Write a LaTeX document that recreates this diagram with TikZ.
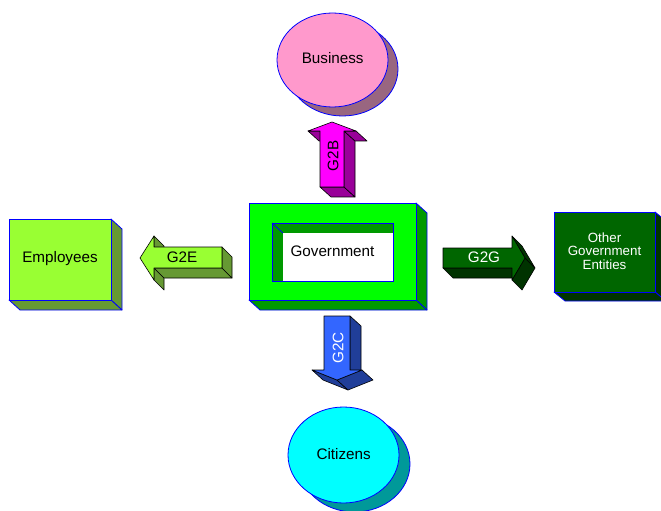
\documentclass[tikz,border=0pt]{standalone}
\usepackage{fontspec}
\setmainfont{Liberation Sans}
\usetikzlibrary{calc}
\definecolor{govfront}{HTML}{00FF00}
\definecolor{govside}{HTML}{009900}
\definecolor{limefront}{HTML}{99FF33}
\definecolor{limeside}{HTML}{669933}
\definecolor{dgfront}{HTML}{006600}
\definecolor{dgside}{HTML}{003300}
\definecolor{magfront}{HTML}{FF00FF}
\definecolor{magside}{HTML}{990099}
\definecolor{pinkfront}{HTML}{FF99CC}
\definecolor{pinkshadow}{HTML}{996680}
\definecolor{bluefront}{HTML}{3366FF}
\definecolor{blueside}{HTML}{203E99}
\definecolor{cyanfront}{HTML}{00FFFF}
\definecolor{cyanshadow}{HTML}{009999}
\definecolor{edgeblue}{HTML}{0000FF}
\newcommand\sidequad[4]{%
  \filldraw[#1] #2 -- #3 -- ($#3+#4$) -- ($#2+#4$) -- cycle;}
\tikzset{
  boxedge/.style={draw=edgeblue, line width=0.8bp},
  arrowedge/.style={draw=black, line width=0.6bp},
  label/.style={font=\fontsize{15.3}{17}\selectfont, inner sep=0pt},
  smalllabel/.style={font=\fontsize{13.4}{13.6}\selectfont, inner sep=0pt, align=center},
}
\begin{document}
\begin{tikzpicture}[x=1bp,y=-1bp,line join=round]
\useasboundingbox (0,0) rectangle (661,511);
\clip (0,0) rectangle (661,511);

% ---------- Business ----------
\filldraw[fill=pinkshadow, boxedge] (342.5,69) ellipse [x radius=55.5, y radius=47];
\filldraw[fill=pinkfront, boxedge] (332.5,60) ellipse [x radius=55.5, y radius=47];
\node[label] (bus) at (332.7,58) {Business};

% ---------- Citizens ----------
\filldraw[fill=cyanshadow, boxedge] (354.5,464) ellipse [x radius=55.5, y radius=48];
\filldraw[fill=cyanfront, boxedge] (343.5,455) ellipse [x radius=55.5, y radius=48];
\node[label] (cit) at (343.7,454) {Citizens};

% ---------- Government ----------
\sidequad{fill=govside, boxedge}{(416,203)}{(416,300)}{(11,10)}
\sidequad{fill=govside, boxedge}{(416,300)}{(249,300)}{(11,10)}
\filldraw[fill=govfront, boxedge] (249,203) rectangle (416,300);
\filldraw[fill=govside, boxedge] (272,223) rectangle (393,281);
\fill[white] (283,233) rectangle (393,281);
\draw[boxedge] (272,223) -- (283,233);
\draw[boxedge] (272,281) -- (393,281) -- (393,223);
\node[label] (gov) at (332.5,251.5) {Government};

% ---------- Employees ----------
\sidequad{fill=limeside, boxedge}{(111,219)}{(111,300)}{(11,10)}
\sidequad{fill=limeside, boxedge}{(111,300)}{(9,300)}{(11,10)}
\filldraw[fill=limefront, boxedge] (9,219) rectangle (111,300);
\node[label] (emp) at (60,259) {Employees};

% ---------- Other Government Entities ----------
\sidequad{fill=dgside, boxedge}{(655,212)}{(655,292)}{(11,9)}
\sidequad{fill=dgside, boxedge}{(655,292)}{(554,292)}{(11,9)}
\filldraw[fill=dgfront, boxedge] (554,212) rectangle (655,292);
\node[smalllabel, text=white] (oth) at (604.5,251) {Other\\Government\\Entities};

% ---------- G2B (up) ----------
\sidequad{fill=magside, arrowedge}{(320,131)}{(308,131)}{(11,10)}
\sidequad{fill=magside, arrowedge}{(344,187)}{(320,187)}{(11,10)}
\sidequad{fill=magside, arrowedge}{(344,131)}{(344,187)}{(11,10)}
\sidequad{fill=magside, arrowedge}{(356,131)}{(344,131)}{(11,10)}
\filldraw[fill=magfront, arrowedge] (332,122) -- (356,131) -- (344,131) -- (344,187)
  -- (320,187) -- (320,131) -- (308,131) -- cycle;
\node[label, rotate=90] (g2b) at (333,156) {G2B};

% ---------- G2C (down) ----------
\sidequad{fill=blueside, arrowedge}{(350,316)}{(350,370)}{(11,10)}
\sidequad{fill=blueside, arrowedge}{(337,380)}{(312,370)}{(11,10)}
\sidequad{fill=blueside, arrowedge}{(362,370)}{(337,380)}{(11,10)}
\filldraw[fill=bluefront, arrowedge] (324,316) -- (350,316) -- (350,370) -- (362,370)
  -- (337,380) -- (312,370) -- (324,370) -- cycle;
\node[label, rotate=90, text=white] (g2c) at (338,348) {G2C};

% ---------- G2E (left) ----------
\sidequad{fill=limeside, arrowedge}{(154,236)}{(154,247)}{(10,10)}
\sidequad{fill=limeside, arrowedge}{(154,268)}{(154,280)}{(10,10)}
\sidequad{fill=limeside, arrowedge}{(222,268)}{(154,268)}{(10,10)}
\sidequad{fill=limeside, arrowedge}{(222,247)}{(222,268)}{(10,10)}
\filldraw[fill=limefront, arrowedge] (140,258) -- (154,236) -- (154,247) -- (222,247)
  -- (222,268) -- (154,268) -- (154,280) -- cycle;
\node[label] (g2e) at (182,257.5) {G2E};

% ---------- G2G (right) ----------
\sidequad{fill=dgside, arrowedge}{(512,268)}{(443,268)}{(10,10)}
\sidequad{fill=dgside, arrowedge}{(525,258)}{(512,280)}{(10,10)}
\sidequad{fill=dgside, arrowedge}{(512,236)}{(525,258)}{(10,10)}
\filldraw[fill=dgfront, arrowedge] (443,248) -- (512,248) -- (512,236) -- (525,258)
  -- (512,280) -- (512,268) -- (443,268) -- cycle;
\node[label, text=white] (g2g) at (484,257.5) {G2G};
\end{tikzpicture}
\end{document}
